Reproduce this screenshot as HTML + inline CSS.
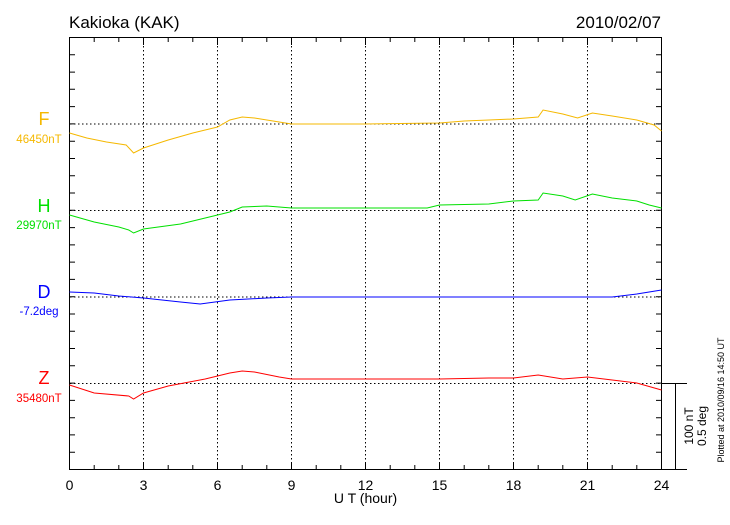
<!DOCTYPE html>
<html><head><meta charset="utf-8"><style>
body{margin:0;background:#fff}
svg text{font-family:"Liberation Sans",sans-serif}
</style></head><body>
<svg width="730" height="520" xmlns="http://www.w3.org/2000/svg">
<rect width="730" height="520" fill="#fff"/>
<text x="69" y="28" font-size="17">Kakioka (KAK)</text>
<text x="661" y="28" font-size="17" text-anchor="end">2010/02/07</text>
<g stroke="#000" stroke-dasharray="1.5,2.5" stroke-width="1">
<line x1="143.5" y1="38" x2="143.5" y2="469"/><line x1="217.5" y1="38" x2="217.5" y2="469"/>
<line x1="291.5" y1="38" x2="291.5" y2="469"/><line x1="365.5" y1="38" x2="365.5" y2="469"/>
<line x1="439.5" y1="38" x2="439.5" y2="469"/><line x1="513.5" y1="38" x2="513.5" y2="469"/>
<line x1="587.5" y1="38" x2="587.5" y2="469"/>
<line x1="70" y1="124" x2="661" y2="124"/><line x1="70" y1="210.5" x2="661" y2="210.5"/>
<line x1="70" y1="297" x2="661" y2="297"/><line x1="70" y1="383.5" x2="661" y2="383.5"/>
</g>
<rect x="69.5" y="37.5" width="592" height="432" fill="none" stroke="#000"/>
<path stroke="#000" fill="none" d="M94.2 469V465M118.8 469V465M143.5 469V462M168.2 469V465M192.8 469V465M217.5 469V462M242.2 469V465M266.8 469V465M291.5 469V462M316.2 469V465M340.8 469V465M365.5 469V462M390.2 469V465M414.8 469V465M439.5 469V462M464.2 469V465M488.8 469V465M513.5 469V462M538.2 469V465M562.8 469V465M587.5 469V462M612.2 469V465M636.8 469V465
M94.2 38V42M118.8 38V42M143.5 38V45M168.2 38V42M192.8 38V42M217.5 38V45M242.2 38V42M266.8 38V42M291.5 38V45M316.2 38V42M340.8 38V42M365.5 38V45M390.2 38V42M414.8 38V42M439.5 38V45M464.2 38V42M488.8 38V42M513.5 38V45M538.2 38V42M562.8 38V42M587.5 38V45M612.2 38V42M636.8 38V42
M69.5 54.8H75M69.5 72.1H75M69.5 89.3H75M69.5 106.6H75M69.5 123.9H75M69.5 141.2H75M69.5 158.5H75M69.5 175.7H75M69.5 193H75M69.5 210.3H75M69.5 227.6H75M69.5 244.9H75M69.5 262.1H75M69.5 279.4H75M69.5 296.7H75M69.5 314H75M69.5 331.3H75M69.5 348.5H75M69.5 365.8H75M69.5 383.1H75M69.5 400.4H75M69.5 417.7H75M69.5 434.9H75M69.5 452.2H75
M661.5 54.8H656M661.5 72.1H656M661.5 89.3H656M661.5 106.6H656M661.5 123.9H656M661.5 141.2H656M661.5 158.5H656M661.5 175.7H656M661.5 193H656M661.5 210.3H656M661.5 227.6H656M661.5 244.9H656M661.5 262.1H656M661.5 279.4H656M661.5 296.7H656M661.5 314H656M661.5 331.3H656M661.5 348.5H656M661.5 365.8H656M661.5 383.1H656M661.5 400.4H656M661.5 417.7H656M661.5 434.9H656M661.5 452.2H656"/>
<line x1="661.5" y1="383.5" x2="687" y2="383.5" stroke="#000"/>
<line x1="661.5" y1="469.5" x2="687" y2="469.5" stroke="#000"/>
<line x1="675.5" y1="383.5" x2="675.5" y2="469.5" stroke="#000"/>
<g font-size="14" text-anchor="middle">
<text x="69.5" y="490">0</text><text x="143.5" y="490">3</text><text x="217.5" y="490">6</text>
<text x="291.5" y="490">9</text><text x="365.5" y="490">12</text><text x="439.5" y="490">15</text>
<text x="513.5" y="490">18</text><text x="587.5" y="490">21</text><text x="661.5" y="490">24</text>
<text x="365.5" y="503">U T (hour)</text>
</g>
<g font-size="18" text-anchor="middle">
<text x="44" y="125" fill="#f5b800">F</text><text x="44" y="212" fill="#00e000">H</text>
<text x="44" y="298" fill="#0000ff">D</text><text x="44" y="384" fill="#ff0000">Z</text>
</g>
<g font-size="11.5" text-anchor="middle">
<text x="39" y="143" fill="#f5b800">46450nT</text><text x="39" y="229" fill="#00e000">29970nT</text>
<text x="39" y="315" fill="#0000ff">-7.2deg</text><text x="39" y="402" fill="#ff0000">35480nT</text>
</g>
<text transform="translate(693,426) rotate(-90)" font-size="12" text-anchor="middle">100 nT</text>
<text transform="translate(706,426) rotate(-90)" font-size="12" text-anchor="middle">0.5 deg</text>
<text transform="translate(724,400) rotate(-90)" font-size="9" text-anchor="middle">Plotted at 2010/09/16 14:50 UT</text>
<g fill="none" stroke-width="1">
<polyline stroke="#f5b800" points="69.5,133 86.8,138 106.5,142 126.2,145 133.6,153 143.5,148 168.2,140 192.8,133 217.5,127 229.8,120 242.2,117 254.5,118 279.2,122 291.5,124 365.5,124 439.5,123 464.2,121 488.8,120 513.5,119 538.2,117 543.1,110 562.8,114 577.6,118 592.4,113 612.2,116 636.8,120 654.1,125 661.5,131"/>
<polyline stroke="#00e000" points="69.5,215 94.2,222 118.8,227 128.7,230 133.6,233 143.5,229 180.5,224 205.2,218 229.8,212 242.2,207 266.8,206 291.5,208 365.5,208 427.2,208 439.5,205 488.8,204 513.5,201 538.2,200 543.1,193 562.8,196 575.2,200 592.4,194 612.2,198 636.8,201 649.2,205 661.5,208"/>
<polyline stroke="#0000ff" points="69.5,292 94.2,293 118.8,296 143.5,298 180.5,302 200.2,304 229.8,300 266.8,298 291.5,297 612.2,297 636.8,294 661.5,290"/>
<polyline stroke="#ff0000" points="69.5,385 94.2,393 128.7,396 133.6,399 143.5,393 168.2,386 205.2,379 229.8,373 242.2,371 254.5,372 279.2,377 291.5,379 439.5,379 488.8,378 513.5,378 538.2,375 562.8,379 587.5,377 612.2,380 636.8,383 661.5,390"/>
</g>
</svg>
</body></html>
